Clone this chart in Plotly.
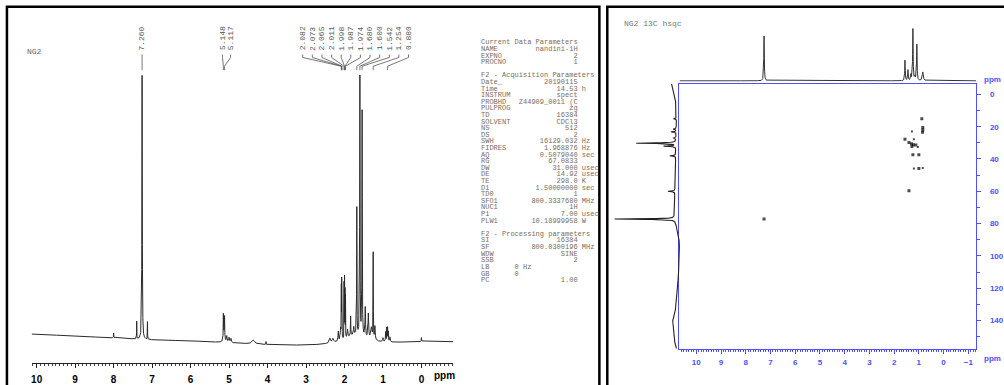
import numpy as np
import plotly.graph_objects as go

FIG_W, FIG_H = 1004, 385

# ---------------- 1H spectrum (left panel) ----------------
h1_peak_ppm = [8.00, 7.40, 7.26, 7.12,
               5.148, 5.117, 5.13, 5.06, 5.00, 4.95, 4.37, 4.04,
               2.38, 2.30, 2.16, 2.10,
               2.082, 2.073, 2.065, 2.011, 1.998, 1.987, 1.974,
               1.92, 1.84, 1.76, 1.680, 1.600, 1.542, 1.46, 1.38, 1.30,
               1.254, 1.21, 1.00, 0.93, 0.900, 0.880, 0.86, 0.82, 0.00, 1.70]
h1_peak_height = [5, 18, 271, 18,
                  24, 20, 10, 6, 5, 4, 4, 3,
                  5, 4, 10, 12,
                  50, 55, 48, 56, 60, 55, 42,
                  8, 20, 8, 130, 265, 230, 30, 25, 12,
                  88, 14, 4, 10, 14, 14, 10, 5, 4, 10]
h1_peak_hwhm = [0.004, 0.003, 0.006, 0.003,
                0.004, 0.004, 0.02, 0.01, 0.015, 0.01, 0.04, 0.004,
                0.02, 0.02, 0.008, 0.01,
                0.0025, 0.0025, 0.0025, 0.0025, 0.0025, 0.0025, 0.0025,
                0.01, 0.005, 0.01, 0.004, 0.005, 0.005, 0.008, 0.01, 0.02,
                0.004, 0.01, 0.01, 0.006, 0.005, 0.005, 0.005, 0.01, 0.004, 0.35]
h1_base_ppm = [10.13, 9.0, 8.0, 7.0, 6.0, 5.0, 4.0, 3.0, 2.0, 1.0, 0.0, -0.82]
h1_base_level = [30, 28, 26, 24, 23, 21, 19, 18, 19, 20, 22, 22]

# peak picking labels
h1_labels = ["7.260", "5.148", "5.117",
             "2.082", "2.073", "2.065", "2.011", "1.998", "1.987", "1.974",
             "1.680", "1.600", "1.542", "1.254", "0.880"]
h1_label_pos = [7.26, 5.17, 4.96,
                3.086, 2.836, 2.586, 2.336, 2.086, 1.836, 1.586,
                1.336, 1.086, 0.836, 0.586, 0.336]

# ---------------- HSQC (right panel) ----------------
f2_proj_ppm = [7.26, 1.56, 1.44, 1.32, 1.24, 1.08, 0.84, 1.16]
f2_proj_height = [46, 21, 11, 6, 53, 37, 9, 4]
f2_proj_hwhm = [0.012, 0.012, 0.012, 0.015, 0.012, 0.012, 0.025, 0.02]

f1_proj_ppm = [77.2, 30.2, 32.0, 15.0, 21.5, 23.2, 27.0, 38.0, 60.0]
f1_proj_height = [61, 40, 12, 3, 3, 5, 3, 6, 7]
f1_proj_hwhm = [0.2, 0.2, 0.2, 0.2, 0.2, 0.2, 0.2, 0.2, 0.2]
f1_base_ppm = [-6.6, -2.5, 3.6, 14, 44, 68, 76, 88, 92, 112, 133, 139, 153, 157.5]
f1_base_level = [12, 10, 8, 7, 8, 9, 9, 5, 4, 5, 8, 11, 9, 7]

cross_h = [7.26, 0.88, 0.84, 0.84, 0.85, 1.28, 1.56, 1.20, 1.40, 1.30, 1.22, 1.12,
           1.28, 1.04, 1.24, 1.00, 1.20, 1.00, 0.84, 1.40]
cross_c = [77.2, 15.0, 20.5, 22.0, 23.5, 23.0, 27.8, 27.8, 29.8, 30.5, 31.2, 31.4,
           32.2, 32.6, 37.4, 37.4, 45.9, 45.9, 45.6, 59.7]
cross_size = [3, 3, 3, 3, 3, 2, 3, 2, 3, 3, 3, 3, 3, 2, 3, 3, 2, 3, 2, 3]

# ---------------- acquisition / processing parameters ----------------
param_rows = [
    ("Current Data Parameters", None, None),
    ("NAME", "nandini-1H", ""),
    ("EXPNO", "2", ""),
    ("PROCNO", "1", ""),
    None,
    ("F2 - Acquisition Parameters", None, None),
    ("Date_", "20190115", ""),
    ("Time", "14.53", "h"),
    ("INSTRUM", "spect", ""),
    ("PROBHD", "Z44909_0011 (C", ""),
    ("PULPROG", "zg", ""),
    ("TD", "16384", ""),
    ("SOLVENT", "CDCl3", ""),
    ("NS", "512", ""),
    ("DS", "2", ""),
    ("SWH", "16129.032", "Hz"),
    ("FIDRES", "1.968876", "Hz"),
    ("AQ", "0.5079040", "sec"),
    ("RG", "67.0833", ""),
    ("DW", "31.000", "usec"),
    ("DE", "14.92", "usec"),
    ("TE", "298.0", "K"),
    ("D1", "1.50000000", "sec"),
    ("TD0", "1", ""),
    ("SFO1", "800.3337680", "MHz"),
    ("NUC1", "1H", ""),
    ("P1", "7.00", "usec"),
    ("PLW1", "10.18999958", "W"),
    None,
    ("F2 - Processing parameters", None, None),
    ("SI", "16384", ""),
    ("SF", "800.0300196", "MHz"),
    ("WDW", "SINE", ""),
    ("SSB", "2", ""),
    ("LB", "0 Hz", "left"),
    ("GB", "0", "left"),
    ("PC", "1.00", ""),
]


def lorentz_sum(grid, centers, heights, hwhm):
    out = np.zeros_like(grid)
    for c, h, w in zip(centers, heights, hwhm):
        out += h / (1.0 + ((grid - c) / w) ** 2)
    return out


def px_x(p):
    return p / FIG_W


def px_y(p):
    return 1.0 - p / FIG_H


# pixel layout of the panels
L_X0, L_X1, L_YB, L_YT = 31, 457, 373, 20
R_X0, R_X1, R_YT, R_YB = 686, 986, 86, 358
L_RANGE = [10.13, -0.82]
R_RANGE = [10.68, -1.32]
C_RANGE = [157.5, -6.6]

# 1H trace
h1_grid = np.union1d(np.arange(-0.82, 10.13, 0.002), np.array(h1_peak_ppm))
h1_y = np.interp(h1_grid, h1_base_ppm[::-1], h1_base_level[::-1]) + \
    lorentz_sum(h1_grid, h1_peak_ppm, h1_peak_height, h1_peak_hwhm)

# F2 projection
f2_grid = np.union1d(np.arange(-1.32, 10.68, 0.004), np.array(f2_proj_ppm))
f2_y = 1.0 + lorentz_sum(f2_grid, f2_proj_ppm, f2_proj_height, f2_proj_hwhm)

# F1 projection
f1_grid = np.union1d(np.arange(-6.6, 157.5, 0.05), np.array(f1_proj_ppm))
f1_x = np.interp(f1_grid, f1_base_ppm, f1_base_level) + \
    lorentz_sum(f1_grid, f1_proj_ppm, f1_proj_height, f1_proj_hwhm)

fig = go.Figure()

fig.add_trace(go.Scatter(x=h1_grid, y=h1_y, mode="lines",
                         line=dict(color="#2a2a2a", width=1),
                         xaxis="x", yaxis="y", hoverinfo="skip"))

# label connectors: label foot -> short drop -> slant -> peak
peak_of_label = [float(t) for t in h1_labels]
cx, cy = [], []
for lp, pp in zip(h1_label_pos, peak_of_label):
    cx += [lp, lp, pp, pp, None]
    cy += [L_YB - 56, L_YB - 59, L_YB - 68, L_YB - 72, None]
fig.add_trace(go.Scatter(x=cx, y=cy, mode="lines",
                         line=dict(color="#555555", width=0.8),
                         xaxis="x", yaxis="y", hoverinfo="skip"))

fig.add_trace(go.Scatter(x=f2_grid, y=f2_y, mode="lines",
                         line=dict(color="#333333", width=1),
                         xaxis="x2", yaxis="y3", hoverinfo="skip"))
fig.add_trace(go.Scatter(x=f1_x, y=f1_grid, mode="lines",
                         line=dict(color="#222222", width=1.1),
                         xaxis="x4", yaxis="y2", hoverinfo="skip"))
fig.add_trace(go.Scatter(x=cross_h, y=cross_c, mode="markers",
                         marker=dict(color="black", size=cross_size, symbol="square",
                                     line=dict(width=0)),
                         xaxis="x2", yaxis="y2", hoverinfo="skip"))

annotations = []
mono = "Liberation Mono"
for lab, lp in zip(h1_labels, h1_label_pos):
    annotations.append(dict(x=lp, y=L_YB - 54, xref="x", yref="y", text=lab,
                            textangle=-90, showarrow=False, xanchor="center",
                            yanchor="bottom", font=dict(family=mono, size=8, color="#555555")))

annotations.append(dict(x=px_x(24), y=px_y(53), xref="paper", yref="paper", text="NG2",
                        showarrow=False, xanchor="left", yanchor="middle",
                        font=dict(family=mono, size=8, color="#666666")))
annotations.append(dict(x=px_x(436), y=px_y(385), xref="paper", yref="paper", text="ppm",
                        showarrow=False, xanchor="left", yanchor="middle",
                        font=dict(family="Liberation Sans", size=10, color="black", weight="bold")))
annotations.append(dict(x=px_x(628), y=px_y(24), xref="paper", yref="paper",
                        text="NG2\u00a013C\u00a0hsqc", showarrow=False, xanchor="left",
                        yanchor="middle", font=dict(family=mono, size=8, color="#777777")))
blue = "#4f4fff"
annotations.append(dict(x=px_x(992), y=px_y(82), xref="paper", yref="paper", text="ppm",
                        showarrow=False, xanchor="left", yanchor="middle",
                        font=dict(family="Liberation Sans", size=8, color=blue, weight="bold")))
annotations.append(dict(x=px_x(992), y=px_y(368), xref="paper", yref="paper", text="ppm",
                        showarrow=False, xanchor="left", yanchor="middle",
                        font=dict(family="Liberation Sans", size=8, color=blue, weight="bold")))

# parameter listing
line_y = 43.5
for row in param_rows:
    if row is not None:
        name, val, unit = row
        if val is None:
            s = name
        elif unit == "left":
            s = f"{name:<8}{val}"
        else:
            s = f"{name:<8}{val:>15}" + (f" {unit}" if unit else "")
        annotations.append(dict(x=px_x(483), y=px_y(line_y), xref="paper", yref="paper",
                                text=s.replace(" ", "\u00a0"), showarrow=False,
                                xanchor="left", yanchor="middle",
                                font=dict(family=mono, size=7, color="#7a6c60")))
    line_y += 6.78

shapes = [
    dict(type="rect", xref="paper", yref="paper", x0=px_x(6), x1=px_x(605),
         y0=px_y(7), y1=px_y(420), line=dict(color="black", width=2.5)),
    dict(type="rect", xref="paper", yref="paper", x0=px_x(613), x1=px_x(1030),
         y0=px_y(7), y1=px_y(420), line=dict(color="black", width=2.5)),
]

tick_font_l = dict(family="Liberation Sans", size=10, color="black", weight="bold")
tick_font_r = dict(family="Liberation Sans", size=8, color=blue, weight="bold")

fig.update_layout(
    width=FIG_W, height=FIG_H,
    margin=dict(l=0, r=0, t=0, b=0),
    paper_bgcolor="white", plot_bgcolor="rgba(0,0,0,0)",
    showlegend=False,
    xaxis=dict(domain=[px_x(L_X0), px_x(L_X1)], range=L_RANGE, anchor="y",
               showline=True, linecolor="#222222", linewidth=1, showgrid=False,
               zeroline=False, ticks="outside", ticklen=4, tickwidth=1,
               tickcolor="#222222", tickvals=list(range(0, 11)), tickfont=tick_font_l,
               ticklabelstandoff=3,
               minor=dict(dtick=0.1, tick0=0, ticks="outside", ticklen=2,
                          tickcolor="#444444", showgrid=False)),
    yaxis=dict(domain=[1 - L_YB / FIG_H, 1 - L_YT / FIG_H], range=[0, L_YB - L_YT],
               visible=False, anchor="x"),
    xaxis2=dict(domain=[px_x(R_X0), px_x(R_X1)], range=R_RANGE, anchor="y2",
                showline=True, mirror=True, linecolor=blue, linewidth=1.2,
                showgrid=False, zeroline=False, ticks="outside", ticklen=4,
                tickcolor=blue, tickvals=list(range(-1, 11)), tickfont=tick_font_r,
                ticklabelstandoff=2,
                minor=dict(dtick=0.1, tick0=0, ticks="outside", ticklen=2,
                           tickcolor=blue, showgrid=False)),
    yaxis2=dict(domain=[1 - R_YB / FIG_H, 1 - R_YT / FIG_H], range=C_RANGE,
                anchor="x2", side="right", showline=True, mirror=True,
                linecolor=blue, linewidth=1.2, showgrid=False, zeroline=False,
                ticks="outside", ticklen=4, tickcolor=blue, dtick=20, tick0=0,
                tickfont=tick_font_r, ticklabelstandoff=7,
                minor=dict(dtick=10, tick0=0, ticks="outside", ticklen=3,
                           tickcolor=blue, showgrid=False)),
    yaxis3=dict(domain=[1 - 84 / FIG_H, 1 - 24 / FIG_H], range=[0, 60],
                visible=False, anchor="x2"),
    xaxis4=dict(domain=[px_x(614), px_x(690)], range=[76, 0], visible=False,
                anchor="y2"),
    annotations=annotations,
    shapes=shapes,
)

fig.write_html("out.html")
